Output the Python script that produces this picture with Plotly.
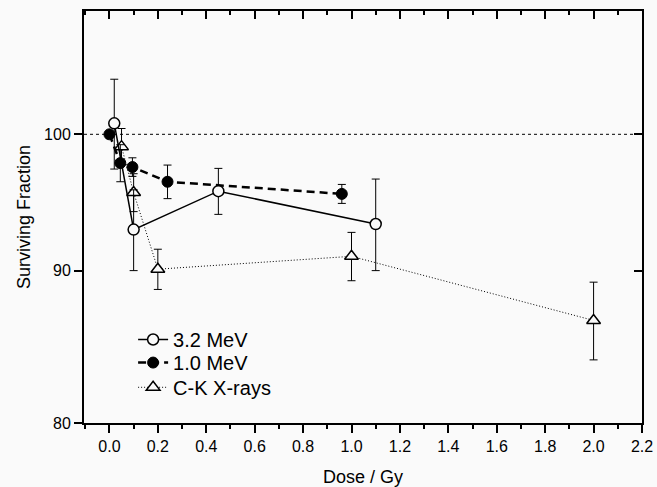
import plotly.graph_objects as go
import math

# 3.2 MeV (open circles, solid line)
dose_32 = [0.02, 0.10, 0.45, 1.10]
sf_32 = [100.85, 92.9, 95.7, 93.3]
err_32 = [3.5, 2.9, 1.7, 3.3]

# 1.0 MeV (filled circles, dashed line)
dose_10 = [0.0, 0.045, 0.095, 0.24, 0.96]
sf_10 = [100.0, 97.8, 97.5, 96.4, 95.5]
err_10 = [0.0, 1.4, 0.7, 1.25, 0.7]

# C-K X-rays (open triangles, dotted line)
dose_ck = [0.05, 0.10, 0.20, 1.00, 2.00]
sf_ck = [99.05, 95.6, 90.1, 91.0, 86.6]
err_ck = [1.4, 1.4, 1.4, 1.7, 2.6]

x_ticks = [0.0, 0.2, 0.4, 0.6, 0.8, 1.0, 1.2, 1.4, 1.6, 1.8, 2.0, 2.2]
x_tick_labels = ["0.0", "0.2", "0.4", "0.6", "0.8", "1.0", "1.2", "1.4", "1.6", "1.8", "2.0", "2.2"]
y_ticks = [80, 90, 100]
y_tick_labels = ["80", "90", "100"]

BG = "#fafafa"
FONT = "Liberation Sans, Arial, sans-serif"

fig = go.Figure()

def eb(arr):
    return dict(type="data", array=arr, visible=True, color="black", thickness=1, width=4)

fig.add_trace(go.Scatter(
    x=dose_ck, y=sf_ck, mode="lines+markers", name="C-K X-rays",
    line=dict(color="black", width=1, dash="1px,2px"),
    marker=dict(symbol="triangle-up", size=12, color=BG, line=dict(color="black", width=1.5)),
    error_y=eb(err_ck), legend="legend3",
))
fig.add_trace(go.Scatter(
    x=dose_10, y=sf_10, mode="lines+markers", name="1.0 MeV",
    line=dict(color="black", width=2.5, dash="8px,5px"),
    marker=dict(symbol="circle", size=11, color="black", line=dict(color="black", width=1)),
    error_y=eb(err_10), legend="legend2",
))
fig.add_trace(go.Scatter(
    x=dose_32, y=sf_32, mode="lines+markers", name="3.2 MeV",
    line=dict(color="black", width=1.5),
    marker=dict(symbol="circle", size=11, color=BG, line=dict(color="black", width=1.5)),
    error_y=eb(err_32), legend="legend",
))

fig.add_shape(type="line", xref="paper", x0=0, x1=1, yref="y", y0=100, y1=100,
              line=dict(color="black", width=1, dash="3px,3px"), layer="below")

xr = [-0.105, 2.2]
yr = [math.log10(80), math.log10(110)]

tickfont = dict(family=FONT, size=16, color="black")

def leg(y):
    return dict(x=0.088, y=y, xanchor="left", yanchor="top",
                bgcolor="rgba(0,0,0,0)", font=dict(size=20, family=FONT, color="black"))

fig.update_layout(
    width=657, height=487,
    margin=dict(l=84, r=15, t=11, b=64),
    paper_bgcolor=BG, plot_bgcolor=BG,
    font=dict(family=FONT, size=16, color="black"),
    showlegend=True,
    legend=leg(0.250), legend2=leg(0.194), legend3=leg(0.134),
    xaxis=dict(
        range=xr, tickmode="array", tickvals=x_ticks, ticktext=x_tick_labels, tickfont=tickfont,
        ticks="outside", ticklen=8, tickwidth=1.5, tickcolor="black", automargin=False,
        showline=True, linecolor="black", linewidth=2, showgrid=False, zeroline=False,
        minor=dict(dtick=0.1, tick0=0, ticks="outside", ticklen=4, tickwidth=1.5, tickcolor="black"),
        title=dict(text="Dose / Gy", font=dict(size=18, family=FONT, color="black"), standoff=17),
    ),
    xaxis2=dict(
        range=xr, overlaying="x", side="top", tickmode="array", tickvals=x_ticks, automargin=False,
        showticklabels=False, ticks="inside", ticklen=8, tickwidth=1.5, tickcolor="black",
        showline=True, linecolor="black", linewidth=2, showgrid=False, zeroline=False,
        minor=dict(dtick=0.1, tick0=0, ticks="inside", ticklen=4, tickwidth=1.5, tickcolor="black"),
    ),
    yaxis=dict(
        type="log", range=yr, tickmode="array", tickvals=y_ticks, ticktext=y_tick_labels, tickfont=tickfont,
        ticks="outside", ticklen=8, tickwidth=1.5, tickcolor="black", automargin=False,
        showline=True, linecolor="black", linewidth=2, showgrid=False, zeroline=False,
        title=dict(text="Surviving Fraction", font=dict(size=18, family=FONT, color="black"), standoff=9),
    ),
    yaxis2=dict(
        type="log", range=yr, overlaying="y", side="right", tickmode="array", tickvals=y_ticks, automargin=False,
        showticklabels=False, ticks="inside", ticklen=8, tickwidth=1.5, tickcolor="black",
        showline=True, linecolor="black", linewidth=2, showgrid=False, zeroline=False,
    ),
)

fig.add_trace(go.Scatter(x=[None], y=[None], xaxis="x2", yaxis="y2", showlegend=False, hoverinfo="skip"))

fig.write_html("out.html", config={"displayModeBar": False},
               post_script="document.body.style.margin='0';document.body.style.background='#fafafa';")
